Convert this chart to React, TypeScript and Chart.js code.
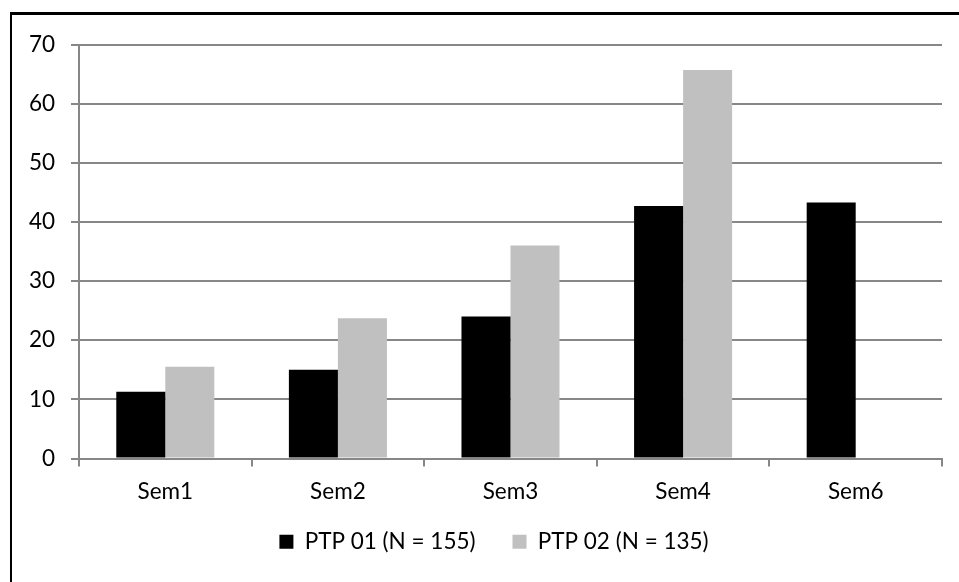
import React, { useEffect, useRef } from "react";
import { Chart, registerables } from "chart.js";

Chart.register(...registerables);

const categories = ["Sem1", "Sem2", "Sem3", "Sem4", "Sem6"];
const ptp01 = [11.3, 15.0, 24.0, 42.7, 43.3];
const ptp02 = [15.5, 23.7, 36.0, 65.7, null];
const seriesLabels = ["PTP 01 (N = 155)", "PTP 02 (N = 135)"];

const FONT = "Lato";
const FONT_SIZE = 22.5;
const GRID = "#878787";

const legendShift = {
  id: "legendShift",
  afterLayout(chart: any) {
    const l = chart.legend;
    if (l) {
      l.left += 17;
      l.right += 17;
    }
  },
};

export default function App() {
  const ref = useRef<HTMLCanvasElement | null>(null);
  useEffect(() => {
    if (!ref.current) return;
    const chart = new Chart(ref.current, {
      type: "bar",
      data: {
        labels: categories,
        datasets: [
          { label: seriesLabels[0], data: ptp01, backgroundColor: "#000000", borderWidth: 0 },
          { label: seriesLabels[1], data: ptp02 as any, backgroundColor: "#c0c0c0", borderWidth: 0 },
        ],
      },
      plugins: [legendShift],
      options: {
        animation: false,
        responsive: false,
        maintainAspectRatio: false,
        layout: { padding: { left: 0, right: 17, top: 27, bottom: 19 } },
        datasets: { bar: { categoryPercentage: 0.568, barPercentage: 1 } },
        plugins: {
          tooltip: { enabled: false },
          legend: {
            position: "bottom",
            labels: {
              boxWidth: 14,
              boxHeight: 14,
              padding: 37,
              color: "#000",
              font: { family: FONT, size: FONT_SIZE },
            },
          },
        },
        scales: {
          x: {
            afterFit: (s: any) => { s.height = 35; },
            grid: { offset: true, drawOnChartArea: false, drawTicks: true, tickLength: 8, color: GRID, lineWidth: 2 },
            border: { display: true, color: GRID, width: 2 },
            ticks: { color: "#000", font: { family: FONT, size: FONT_SIZE }, mirror: true, padding: -47 },
          },
          y: {
            min: 0,
            max: 70,
            afterFit: (s: any) => { s.width = 67; },
            grid: { drawTicks: true, tickLength: 8, color: GRID, lineWidth: 2 },
            border: { display: true, color: GRID, width: 2 },
            ticks: { stepSize: 10, color: "#000", font: { family: FONT, size: FONT_SIZE }, padding: 16 },
          },
        },
      },
    });
    return () => chart.destroy();
  }, []);
  return (
    <div
      style={{
        position: "fixed",
        left: 10,
        top: 12,
        width: 949,
        height: 570,
        borderLeft: "2px solid #000",
        borderTop: "3px solid #000",
        background: "#fff",
        boxSizing: "border-box",
      }}
    >
      <canvas ref={ref} width={947} height={567} style={{ display: "block" }} />
    </div>
  );
}
